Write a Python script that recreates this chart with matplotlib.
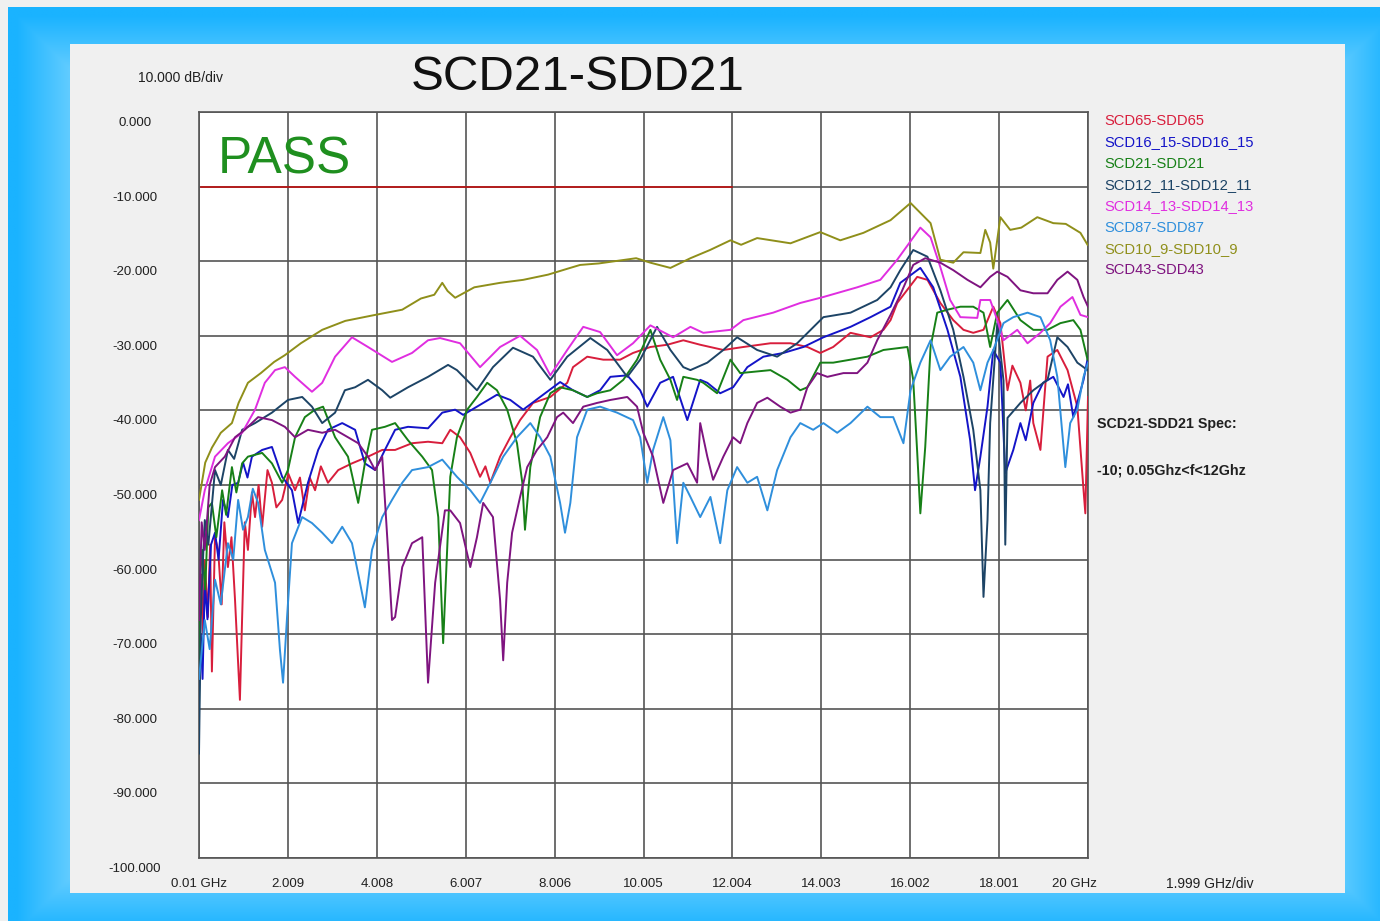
import numpy as np
import matplotlib
matplotlib.use("Agg")
import matplotlib.pyplot as plt
from matplotlib.patches import Rectangle
from matplotlib.transforms import offset_copy

plt.rcParams['font.family'] = ['Liberation Sans', 'DejaVu Sans']

# ---------------- data (GHz, dB) ----------------
series_names = ["SCD65-SDD65", "SCD16_15-SDD16_15", "SCD21-SDD21", "SCD12_11-SDD12_11",
                "SCD14_13-SDD14_13", "SCD87-SDD87", "SCD10_9-SDD10_9", "SCD43-SDD43"]
series_colors = ["#d81e3c", "#1414c8", "#178017", "#1d4466",
                 "#e02ee0", "#2f8fdc", "#8f8f1a", "#7f1480"]

scd65 = [(0.01,-72.1),(0.06,-62.0),(0.10,-70.0),(0.14,-60.1),(0.21,-67.7),(0.26,-58.0),(0.30,-75.0),
         (0.37,-57.0),(0.44,-58.7),(0.52,-66.0),(0.58,-55.0),(0.66,-61.0),(0.74,-57.0),
         (0.82,-65.4),(0.93,-78.8),(0.98,-67.7),(1.04,-55.0),(1.11,-58.7),(1.20,-51.0),(1.27,-54.3),
         (1.35,-50.0),(1.43,-55.6),(1.55,-48.0),(1.65,-49.7),(1.75,-53.0),
         (1.88,-52.0),(2.02,-48.5),(2.17,-50.7),(2.28,-49.0),(2.39,-53.4),(2.50,-49.0),(2.62,-50.7),
         (2.75,-47.5),(2.91,-49.7),(3.14,-48.0),(3.45,-47.1),
         (3.81,-46.2),(4.13,-45.3),(4.42,-45.3),(4.80,-44.4),(5.16,-44.2),(5.48,-44.4),(5.66,-42.6),
         (5.88,-43.6),(6.11,-45.7),(6.33,-48.9),(6.45,-47.5),(6.56,-49.7),(6.78,-46.2),(7.01,-43.6),(7.23,-41.3),
         (7.52,-39.0),(7.91,-38.2),(8.29,-36.3),(8.42,-34.2),(8.74,-32.8),(9.10,-33.2),(9.48,-33.2),
         (9.77,-32.3),(10.16,-31.5),(10.54,-31.2),(10.90,-30.6),(11.28,-31.2),(11.80,-31.9),(12.25,-31.5),
         (12.86,-31.0),(13.31,-31.0),(13.69,-31.5),(13.98,-32.3),(14.27,-31.5),(14.66,-29.6),(15.11,-30.2),
         (15.40,-29.2),(15.56,-27.9),(15.71,-25.6),(16.16,-22.1),(16.39,-22.5),(16.68,-25.6),(16.97,-27.9),
         (17.20,-29.2),(17.42,-29.6),(17.65,-29.2),(17.87,-26.1),(18.03,-28.3),(18.19,-37.3),(18.30,-34.0),
         (18.48,-36.3),(18.60,-40.0),(18.70,-36.0),
         (18.77,-41.7),(18.93,-45.3),(19.09,-32.8),(19.31,-31.9),(19.54,-34.6),(19.76,-39.5),(19.90,-50.7),
         (19.94,-53.8),(20.0,-38.2)]

scd16_15 = [(0.01,-78.0),(0.05,-70.0),(0.09,-76.0),(0.14,-63.1),(0.20,-68.0),(0.28,-58.0),(0.37,-56.4),
            (0.45,-60.0),(0.55,-52.0),(0.66,-54.3),(0.76,-50.0),(0.89,-49.7),(1.00,-47.0),(1.10,-49.0),
            (1.20,-46.2),(1.43,-45.3),
            (1.65,-44.9),(1.88,-48.9),(2.10,-50.7),(2.24,-55.1),(2.46,-49.7),(2.69,-45.3),(2.91,-42.6),
            (3.23,-41.7),(3.52,-42.6),(3.74,-47.1),(3.97,-48.0),(4.19,-45.3),(4.42,-42.6),(4.71,-42.2),
            (5.16,-42.4),(5.48,-40.3),(5.77,-39.9),(5.95,-40.6),(6.26,-39.5),(6.71,-37.9),(7.01,-38.6),
            (7.30,-39.9),(7.68,-38.2),(8.13,-36.2),(8.42,-37.3),(8.74,-38.2),(9.03,-37.3),(9.26,-35.5),
            (9.64,-35.3),(9.93,-37.3),(10.09,-39.5),(10.38,-36.3),(10.67,-35.5),(10.99,-41.3),(11.28,-35.9),
            (11.44,-36.3),(11.73,-37.7),(12.02,-36.9),(12.34,-34.2),(12.70,-32.8),(13.15,-32.3),(13.60,-31.5),
            (14.05,-30.2),(14.66,-28.8),(15.11,-27.5),(15.56,-26.1),(15.78,-22.9),(16.23,-20.9),(16.52,-23.5),
            (16.84,-29.2),(17.13,-35.5),(17.35,-44.0),(17.46,-50.7),(17.58,-46.2),(17.74,-39.5),(17.87,-31.9),
            (18.03,-33.6),(18.14,-48.4),(18.32,-45.3),(18.48,-41.7),(18.60,-44.0),(18.77,-39.0),(18.99,-36.3),
            (19.22,-35.5),(19.45,-38.2),(19.55,-36.5),(19.67,-40.9),(19.90,-35.9),(20.0,-32.8)]

scd21 = [(0.01,-80.0),(0.04,-62.0),(0.08,-58.7),(0.15,-64.0),(0.22,-53.0),(0.30,-52.4),(0.40,-57.0),
         (0.53,-50.7),(0.62,-54.0),(0.75,-47.6),(0.85,-51.0),(0.98,-47.1),(1.11,-46.2),
         (1.43,-45.7),(1.65,-47.1),(1.88,-49.7),(2.01,-48.0),(2.17,-43.6),(2.39,-40.9),(2.62,-39.9),
         (2.80,-39.5),(3.07,-43.6),(3.36,-46.2),(3.59,-52.4),(3.74,-47.1),(3.90,-42.6),(4.19,-42.2),
         (4.42,-41.7),(4.71,-44.0),(5.03,-46.2),(5.25,-48.0),(5.39,-54.3),(5.50,-71.2),(5.66,-48.9),
         (5.81,-43.6),(6.04,-39.9),(6.26,-38.2),(6.49,-36.3),(6.71,-37.3),(6.94,-39.9),(7.16,-44.4),
         (7.28,-49.7),(7.34,-56.0),(7.46,-47.6),(7.68,-40.9),(7.91,-37.7),(8.13,-36.9),(8.42,-37.3),
         (8.74,-38.2),(8.96,-37.7),(9.26,-37.3),(9.55,-35.9),(9.86,-33.2),(10.16,-29.2),(10.38,-33.2),
         (10.61,-35.9),(10.76,-38.6),(10.90,-35.5),(11.21,-35.9),(11.35,-36.3),(11.66,-37.7),(11.96,-33.2),
         (12.18,-35.0),(12.86,-34.6),(13.24,-35.9),(13.53,-37.3),(13.69,-36.9),(13.98,-33.6),(14.27,-33.6),
         (14.66,-33.2),(15.04,-32.8),(15.40,-31.9),(15.94,-31.5),(16.07,-35.9),(16.16,-45.7),(16.23,-53.8),
         (16.34,-44.9),(16.46,-31.5),(16.61,-26.9),(16.84,-26.5),(17.13,-26.1),(17.42,-26.1),(17.65,-26.9),
         (17.80,-31.5),(17.96,-26.9),(18.19,-25.2),(18.48,-27.9),(18.77,-29.2),(19.09,-29.2),(19.38,-28.3),
         (19.67,-27.9),(19.83,-29.2),(19.99,-33.2)]

scd12_11 = [(0.01,-86.0),(0.05,-68.0),(0.10,-60.0),(0.14,-54.7),(0.22,-58.0),(0.37,-48.0),(0.50,-50.0),
            (0.66,-45.3),(0.80,-46.5),(0.98,-42.6),(1.27,-41.7),(1.65,-40.3),
            (2.01,-38.6),(2.33,-38.2),(2.55,-39.5),(2.78,-41.7),(3.07,-40.3),(3.29,-37.3),(3.52,-36.9),
            (3.81,-35.9),(4.13,-37.3),(4.31,-38.3),(4.71,-36.9),(5.16,-35.5),(5.61,-33.9),(5.81,-34.6),
            (6.26,-37.3),(6.62,-34.2),(7.07,-31.6),(7.52,-32.8),(7.91,-35.9),(8.29,-32.8),(8.81,-30.3),
            (9.19,-31.9),(9.64,-35.5),(9.93,-33.2),(10.31,-28.8),(10.61,-31.9),(10.90,-34.2),(11.06,-34.6),
            (11.44,-33.6),(11.80,-31.9),(12.11,-30.2),(12.56,-31.9),(13.01,-32.8),(13.46,-31.0),(14.05,-27.5),
            (14.66,-26.9),(15.26,-25.2),(15.56,-23.5),(15.78,-21.2),(16.07,-18.5),(16.39,-19.4),(16.68,-23.9),
            (16.97,-29.2),(17.20,-35.5),(17.42,-42.6),(17.58,-50.7),(17.65,-65.0),(17.74,-54.7),(17.80,-41.7),
            (17.96,-28.3),(18.10,-36.0),(18.14,-58.0),(18.19,-41.0),(18.48,-39.0),(18.77,-37.3),(19.09,-35.9),
            (19.31,-30.2),(19.54,-31.5),(19.76,-33.6),(19.99,-34.6)]

scd14_13 = [(0.01,-54.7),(0.14,-50.7),(0.37,-46.2),(0.66,-44.4),(0.98,-43.0),(1.27,-39.9),(1.49,-36.3),
            (1.72,-34.6),(1.94,-34.2),(2.17,-35.5),(2.55,-37.5),(2.78,-36.3),(3.07,-32.8),(3.45,-30.2),
            (3.81,-31.5),(4.35,-33.5),(4.80,-32.3),(5.16,-30.6),(5.43,-30.3),(5.88,-31.0),(6.33,-34.2),
            (6.78,-31.5),(7.23,-30.0),(7.61,-31.9),(7.91,-35.3),(8.29,-31.9),(8.65,-28.8),(9.03,-29.5),
            (9.41,-32.6),(9.77,-31.0),(10.16,-28.6),(10.67,-30.2),(11.06,-28.8),(11.35,-29.6),(11.96,-29.2),
            (12.25,-27.9),(12.92,-26.9),(13.53,-25.6),(14.05,-24.8),(14.81,-23.5),(15.33,-22.5),(15.71,-19.8),
            (16.23,-15.5),(16.46,-16.8),(16.68,-20.8),(16.90,-25.2),(17.13,-27.5),(17.51,-27.6),(17.58,-25.2),
            (17.80,-25.2),(17.96,-27.9),(18.10,-30.6),(18.41,-29.2),(18.64,-31.0),(18.93,-29.6),(19.15,-28.3),
            (19.38,-26.1),(19.65,-24.8),(19.83,-27.2),(20.0,-27.5)]

scd87 = [(0.01,-76.0),(0.14,-68.1),(0.25,-72.0),(0.37,-62.7),(0.50,-66.0),(0.66,-57.8),(0.78,-60.0),
         (0.89,-52.0),(1.00,-56.0),(1.11,-54.3),(1.22,-50.5),(1.34,-52.4),
         (1.49,-58.7),(1.72,-63.1),(1.83,-72.1),(1.90,-76.5),(1.99,-67.7),(2.10,-57.8),(2.33,-54.3),
         (2.55,-55.1),(2.78,-56.4),(3.00,-57.8),(3.23,-55.6),(3.45,-57.8),(3.63,-63.1),(3.74,-66.4),
         (3.90,-58.7),(4.13,-54.3),(4.35,-52.0),(4.58,-49.7),(4.80,-48.0),(5.16,-47.6),(5.48,-46.6),
         (5.81,-48.9),(6.11,-50.7),(6.33,-52.4),(6.56,-49.7),(6.85,-46.2),(7.16,-43.6),(7.46,-41.7),
         (7.68,-43.6),(7.91,-46.2),(8.13,-52.4),(8.24,-56.4),(8.36,-52.4),(8.51,-43.6),(8.74,-39.9),
         (9.03,-39.5),(9.41,-40.3),(9.77,-41.3),(9.93,-43.6),(10.09,-49.7),(10.22,-45.3),(10.45,-40.9),
         (10.61,-44.0),(10.76,-57.8),(10.90,-49.7),(11.06,-51.6),(11.28,-54.3),(11.51,-51.6),(11.73,-57.8),
         (11.89,-50.7),(12.11,-47.6),(12.34,-49.7),(12.56,-48.9),(12.79,-53.4),(13.01,-48.0),(13.31,-43.6),
         (13.53,-41.7),(13.82,-42.6),(14.05,-41.7),(14.36,-43.0),(14.66,-41.7),(15.04,-39.5),(15.33,-40.9),
         (15.62,-40.9),(15.85,-44.4),(16.01,-37.3),(16.23,-33.6),(16.46,-30.6),(16.68,-34.6),(16.90,-32.8),
         (17.20,-31.5),(17.42,-33.6),(17.58,-37.3),(17.74,-33.6),(17.87,-31.9),(18.10,-28.3),(18.32,-27.5),
         (18.64,-26.9),(18.93,-27.5),(19.15,-30.6),(19.31,-35.5),(19.49,-47.6),(19.60,-41.7),(19.76,-39.9),
         (19.90,-35.5),(20.0,-33.6)]

scd10_9 = [(0.01,-52.0),(0.15,-47.0),(0.30,-45.0),(0.50,-43.0),(0.75,-41.7),(0.90,-39.0),(1.11,-36.3),
           (1.40,-35.0),(1.70,-33.5),(1.94,-32.6),(2.30,-31.0),(2.78,-29.2),(3.30,-28.0),(3.97,-27.2),
           (4.58,-26.5),(5.00,-25.0),(5.30,-24.5),(5.48,-22.9),(5.60,-24.0),(5.77,-24.9),(6.20,-23.5),
           (6.78,-22.9),(7.30,-22.5),(7.86,-21.8),(8.30,-21.0),(8.58,-20.5),(9.00,-20.3),(9.84,-19.6),
           (10.16,-20.2),(10.61,-20.9),(11.06,-19.6),(11.50,-18.5),(11.96,-17.2),(12.20,-17.8),(12.56,-16.9),
           (13.31,-17.6),(13.98,-16.1),(14.43,-17.2),(14.95,-16.2),(15.56,-14.5),(16.01,-12.2),(16.46,-14.9),
           (16.68,-19.8),(16.97,-20.2),(17.20,-18.8),(17.58,-18.9),(17.69,-15.8),(17.80,-17.5),(17.87,-21.0),
           (18.03,-14.1),(18.25,-15.8),(18.50,-15.5),(18.86,-14.1),(19.22,-14.9),(19.50,-15.0),(19.83,-16.2),
           (19.99,-17.8)]

scd43 = [(0.01,-68.1),(0.07,-55.0),(0.14,-58.7),(0.25,-50.0),(0.37,-47.6),(0.59,-46.2),(0.82,-43.6),
         (1.04,-42.6),(1.34,-40.9),
         (1.65,-41.3),(1.94,-42.2),(2.17,-43.6),(2.46,-42.6),(2.78,-43.0),(3.07,-42.6),(3.36,-43.6),
         (3.59,-44.4),(3.81,-46.2),(3.97,-48.0),(4.13,-46.2),(4.26,-58.7),(4.35,-68.1),(4.42,-67.7),
         (4.58,-61.0),(4.80,-57.8),(5.03,-57.0),(5.16,-76.5),(5.32,-63.1),(5.54,-53.4),(5.66,-53.4),
         (5.88,-55.1),(6.11,-61.0),(6.26,-57.0),(6.40,-52.4),(6.62,-54.3),(6.78,-65.4),(6.85,-73.5),
         (6.94,-63.1),(7.05,-56.4),(7.23,-51.6),(7.39,-47.6),(7.61,-45.3),(7.84,-43.6),(8.06,-40.9),
         (8.20,-40.3),(8.42,-41.7),(8.65,-39.5),(8.96,-39.0),(9.26,-38.6),(9.64,-38.2),(9.86,-39.5),
         (10.00,-43.0),(10.22,-46.2),(10.45,-52.4),(10.67,-48.0),(10.99,-47.1),(11.21,-49.7),(11.28,-41.7),
         (11.44,-46.2),(11.57,-49.3),(11.80,-46.2),(12.02,-43.6),(12.18,-44.4),(12.34,-41.7),(12.56,-39.0),
         (12.79,-38.3),(13.08,-39.5),(13.31,-40.3),(13.53,-39.9),(13.69,-36.9),(13.91,-35.0),(14.14,-35.5),
         (14.50,-35.0),(14.81,-35.0),(15.04,-33.6),(15.26,-30.6),(15.56,-27.2),(15.78,-24.5),(16.07,-20.5),
         (16.34,-19.6),(16.68,-20.2),(16.97,-21.2),(17.29,-22.5),(17.58,-23.5),(17.80,-22.1),(17.96,-21.4),
         (18.19,-22.1),(18.48,-23.9),(18.77,-24.3),(19.09,-24.3),(19.31,-22.5),(19.54,-21.4),(19.76,-22.5),
         (19.90,-24.8),(20.0,-26.1)]

series_data = [scd65, scd16_15, scd21, scd12_11, scd14_13, scd87, scd10_9, scd43]

x_ticks = [0.01, 2.009, 4.008, 6.007, 8.006, 10.005, 12.004, 14.003, 16.002, 18.001, 20.0]
x_tick_labels = ["0.01 GHz", "2.009", "4.008", "6.007", "8.006", "10.005", "12.004",
                 "14.003", "16.002", "18.001", "20 GHz"]
y_ticks = [0, -10, -20, -30, -40, -50, -60, -70, -80, -90, -100]
y_tick_labels = ["0.000", "-10.000", "-20.000", "-30.000", "-40.000", "-50.000",
                 "-60.000", "-70.000", "-80.000", "-90.000", "-100.000"]
spec_limit = -10
spec_f = [0.05, 12.0]

# ---------------- figure ----------------
W, H = 1380, 921
fig = plt.figure(figsize=(W / 100, H / 100), dpi=100)
fig.patch.set_facecolor("#f0f0f0")

bg = fig.add_axes([0, 0, 1, 1], zorder=0)
bg.set_xlim(0, W)
bg.set_ylim(H, 0)
bg.axis("off")

# blue frame gradient
yy, xx = np.mgrid[0:H:2, 0:W:2]
edge = np.minimum.reduce([xx - 8.0, yy - 8.0, W - xx + 10.0, H - yy + 10.0])
t = np.clip(edge / 70.0, 0, 1)
c0 = np.array([0x1a, 0xb3, 0xff]) / 255
c1 = np.array([0x78, 0xd4, 0xff]) / 255
img = c0[None, None, :] * (1 - t[..., None]) + c1[None, None, :] * t[..., None]
bg.imshow(img, extent=(8, W, H, 8), aspect="auto", interpolation="bilinear", zorder=0)
px0, py0, px1, py1 = 70, 44, 1345, 893
bg.add_patch(Rectangle((px0, py0), px1 - px0, py1 - py0, facecolor="#f0f0f0",
                       edgecolor="none", zorder=1))

# main plot axes
L, R, T, B = 199, 1088, 112, 858
ax = fig.add_axes([L / W, 1 - B / H, (R - L) / W, (B - T) / H], zorder=2)
ax.set_facecolor("white")
ax.set_xlim(0.01, 20.0)
ax.set_ylim(-100, 0)
ax.set_xticks(x_ticks)
ax.set_yticks(y_ticks)
ax.tick_params(length=0, labelbottom=False, labelleft=False)
ax.grid(True, color="#555555", linewidth=1.2)
ax.set_axisbelow(True)
for s in ax.spines.values():
    s.set_color("#555555")
    s.set_linewidth(1.2)

ax.plot(spec_f, [spec_limit, spec_limit], color="#c01010", linewidth=1.2, zorder=3)

for data, color in zip(series_data, series_colors):
    arr = np.array(data)
    ax.plot(arr[:, 0], arr[:, 1], color=color, linewidth=1.4, zorder=4)

ax.text(0.021, 0.935, "PASS", transform=ax.transAxes, color="#1f8f1f", fontsize=37,
        ha="left", va="center", zorder=5)

# tick labels
ytr = offset_copy(ax.get_yaxis_transform(), fig=fig, x=0, y=-11, units="dots")
for v, lab in zip(y_ticks, y_tick_labels):
    ax.text(-0.072, v, lab, transform=ytr, ha="center", va="center", fontsize=9.5,
            color="#202020", clip_on=False)
xtr = ax.get_xaxis_transform()
for i, (v, lab) in enumerate(zip(x_ticks, x_tick_labels)):
    off = -14 if i == len(x_ticks) - 1 else 0
    tr = offset_copy(xtr, fig=fig, x=off, y=0, units="dots")
    ax.text(v, -0.035, lab, transform=tr, ha="center", va="center", fontsize=9.5,
            color="#202020", clip_on=False)

# header / footer texts
bg.text(180, 78, "10.000 dB/div", ha="center", va="center", fontsize=10, color="#202020", zorder=3)
bg.text(578, 78, "SCD21-SDD21", ha="center", va="center", fontsize=35.5, color="#111111", zorder=3)
bg.text(1210, 884, "1.999 GHz/div", ha="center", va="center", fontsize=10, color="#202020", zorder=3)

# legend
for i, (name, color) in enumerate(zip(series_names, series_colors)):
    bg.text(1104, 121 + i * 21.3, name, ha="left", va="center", fontsize=10.6, color=color, zorder=3)

bg.text(1097, 424, "SCD21-SDD21 Spec:", ha="left", va="center", fontsize=10.3,
        fontweight="bold", color="#202020", zorder=3)
bg.text(1097, 470, "-10; 0.05Ghz<f<12Ghz", ha="left", va="center", fontsize=10.3,
        fontweight="bold", color="#202020", zorder=3)

fig.savefig("out.png", dpi=100, facecolor=fig.get_facecolor())
